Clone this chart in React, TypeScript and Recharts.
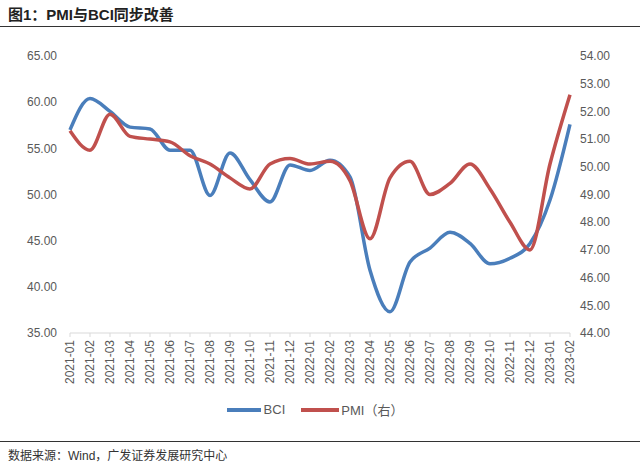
import React from 'react';
import { LineChart, Line, XAxis, YAxis } from 'recharts';

const months = [
  '2021-01', '2021-02', '2021-03', '2021-04', '2021-05', '2021-06', '2021-07', '2021-08', '2021-09',
  '2021-10', '2021-11', '2021-12', '2022-01', '2022-02', '2022-03', '2022-04', '2022-05', '2022-06',
  '2022-07', '2022-08', '2022-09', '2022-10', '2022-11', '2022-12', '2023-01', '2023-02',
];
const bci = [
  57.0, 60.4, 59.0, 57.3, 57.1, 54.8, 54.8, 49.9, 54.5, 51.6, 49.2, 53.2, 52.6,
  53.7, 51.9, 41.8, 37.3, 42.7, 44.2, 45.9, 44.7, 42.5, 43.1, 44.7, 49.4, 57.6,
];
const pmi = [
  51.3, 50.6, 51.9, 51.1, 51.0, 50.9, 50.4, 50.1, 49.6, 49.2, 50.1, 50.3, 50.1,
  50.2, 49.5, 47.4, 49.6, 50.2, 49.0, 49.4, 50.1, 49.2, 48.0, 47.0, 50.1, 52.6,
];
const leftTicks = [35, 40, 45, 50, 55, 60, 65];
const rightTicks = [44, 45, 46, 47, 48, 49, 50, 51, 52, 53, 54];

const rows = months.map((m, i) => ({ month: m, bci: bci[i], pmi: pmi[i] }));

const BLUE = '#4a7ebb';
const RED = '#c0504d';
const FONT = 'Arial, "Liberation Sans", "Noto Sans CJK SC", sans-serif';

const MonthTick = (props: any) => {
  const { x, y, payload } = props;
  return (
    <text
      x={x}
      y={y}
      transform={`rotate(-90 ${x} ${y})`}
      textAnchor="end"
      dominantBaseline="central"
      fontSize={12}
      fill="#595959"
      fontFamily={FONT}
    >
      {payload.value}
    </text>
  );
};

const LegendBox = () => (
  <div style={{ display: 'flex', justifyContent: 'center', fontFamily: FONT, fontSize: 13, color: '#595959' }}>
    <span style={{ display: 'flex', alignItems: 'center', marginRight: 16 }}>
      <svg width={34} height={6}><line x1={0} y1={3} x2={34} y2={3} stroke={BLUE} strokeWidth={4} /></svg>
      <span style={{ marginLeft: 3 }}>BCI</span>
    </span>
    <span style={{ display: 'flex', alignItems: 'center' }}>
      <svg width={38} height={6}><line x1={0} y1={3} x2={38} y2={3} stroke={RED} strokeWidth={4} /></svg>
      <span style={{ marginLeft: 2 }}>PMI（右）</span>
    </span>
  </div>
);

export default function App() {
  return (
    <div style={{ position: 'absolute', left: 0, top: 0, width: 640, height: 470, background: '#fff', fontFamily: FONT }}>
      <div style={{ position: 'absolute', left: 8, top: 3, fontSize: 15, fontWeight: 'bold', color: '#222' }}>
        图1：PMI与BCI同步改善
      </div>
      <div style={{ position: 'absolute', left: 0, top: 26, width: 640, height: 0, borderTop: '1.5px solid #333' }} />
      <div style={{ position: 'absolute', left: 0, top: 0 }}>
        <LineChart width={640} height={400} data={rows} margin={{ top: 56, right: 0, left: 8, bottom: 0 }}>
          <XAxis
            dataKey="month"
            height={67}
            interval={0}
            tick={<MonthTick />}
            stroke="#d9d9d9"
            tickSize={4}
            tickMargin={3}
          />
          <YAxis
            yAxisId="left"
            width={62}
            domain={[35, 65]}
            ticks={leftTicks}
            tickFormatter={(v: number) => v.toFixed(2)}
            axisLine={false}
            tickLine={false}
            tickMargin={7}
            tick={{ fontSize: 12, fill: '#595959', fontFamily: FONT }}
          />
          <YAxis
            yAxisId="right"
            orientation="right"
            width={70}
            domain={[44, 54]}
            ticks={rightTicks}
            tickFormatter={(v: number) => v.toFixed(2)}
            axisLine={false}
            tickLine={false}
            tickMargin={4}
            tick={{ fontSize: 12, fill: '#595959', fontFamily: FONT, textAnchor: 'start' }}
          />
          <Line yAxisId="left" type="monotone" dataKey="bci" stroke={BLUE} strokeWidth={3.5} dot={false} isAnimationActive={false} />
          <Line yAxisId="right" type="monotone" dataKey="pmi" stroke={RED} strokeWidth={3.5} dot={false} isAnimationActive={false} />
        </LineChart>
      </div>
      <div style={{ position: 'absolute', left: 0, top: 400, width: 630 }}>
        <LegendBox />
      </div>
      <div style={{ position: 'absolute', left: 0, top: 441, width: 640, height: 0, borderTop: '1.5px solid #333' }} />
      <div style={{ position: 'absolute', left: 8, top: 446, fontSize: 12, color: '#333' }}>
        数据来源：Wind，广发证券发展研究中心
      </div>
    </div>
  );
}
